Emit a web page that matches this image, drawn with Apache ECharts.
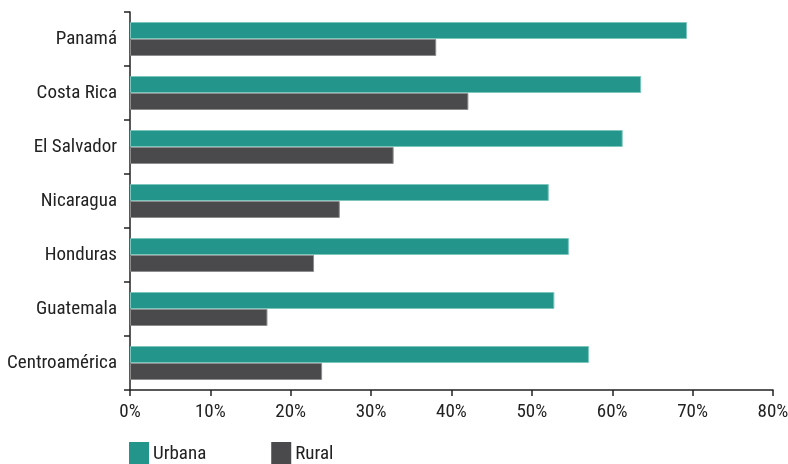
<!DOCTYPE html>
<html><head><meta charset="utf-8">
<script src="https://cdn.jsdelivr.net/npm/echarts@6/dist/echarts.min.js"></script>
<style>html,body{margin:0;padding:0;background:#fff}#c{width:788px;height:464px}</style>
</head><body><div id="c"></div>
<script>
const categories = ['Panamá','Costa Rica','El Salvador','Nicaragua','Honduras','Guatemala','Centroamérica'];
const urbana = [69.3, 63.6, 61.3, 52.1, 54.6, 52.8, 57.1];
const rural = [38.1, 42.1, 32.8, 26.1, 22.9, 17.1, 23.9];
const seriesNames = ['Urbana','Rural'];
const xTicks = [0,10,20,30,40,50,60,70,80];

const FONT = '"Roboto Condensed", "DejaVu Sans Condensed", sans-serif';
const chart = echarts.init(document.getElementById('c'), null, {renderer:'canvas'});
chart.setOption({
  animation:false,
  textStyle:{fontFamily:FONT},
  grid:{left:130, right:15, top:12, bottom:74, containLabel:false, outerBoundsMode:'none'},
  legend:{
    data:seriesNames, left:129, bottom:-2, padding:0, itemWidth:20, itemHeight:24, itemGap:65,
    icon:'rect', itemStyle:{borderWidth:0},
    textStyle:{fontFamily:FONT, fontSize:19, color:'#222', padding:[3,0,0,-1]}
  },
  xAxis:{
    type:'value', min:xTicks[0], max:xTicks[xTicks.length-1], interval:10,
    axisLine:{show:true, lineStyle:{color:'#222', width:1.5}},
    axisTick:{show:true, length:6, inside:false, lineStyle:{color:'#222', width:1.5}},
    splitLine:{show:false},
    axisLabel:{formatter:v=>v+'%', fontSize:19, color:'#222', margin:13, fontFamily:FONT}
  },
  yAxis:{
    type:'category', data:categories, inverse:true,
    axisLine:{show:true, lineStyle:{color:'#222', width:1.5}},
    axisTick:{show:true, length:6, lineStyle:{color:'#222', width:1.5}},
    axisLabel:{fontSize:19, color:'#222', margin:13, fontFamily:FONT}
  },
  series:[
    {name:seriesNames[0], type:'bar', data:urbana, barWidth:17, barGap:'0%',
     itemStyle:{color:'#23958A', borderColor:'#7cc6bd', borderWidth:1}},
    {name:seriesNames[1], type:'bar', data:rural, barWidth:17,
     itemStyle:{color:'#4a4a4c', borderColor:'#8c8c8c', borderWidth:1}}
  ]
});
</script></body></html>
